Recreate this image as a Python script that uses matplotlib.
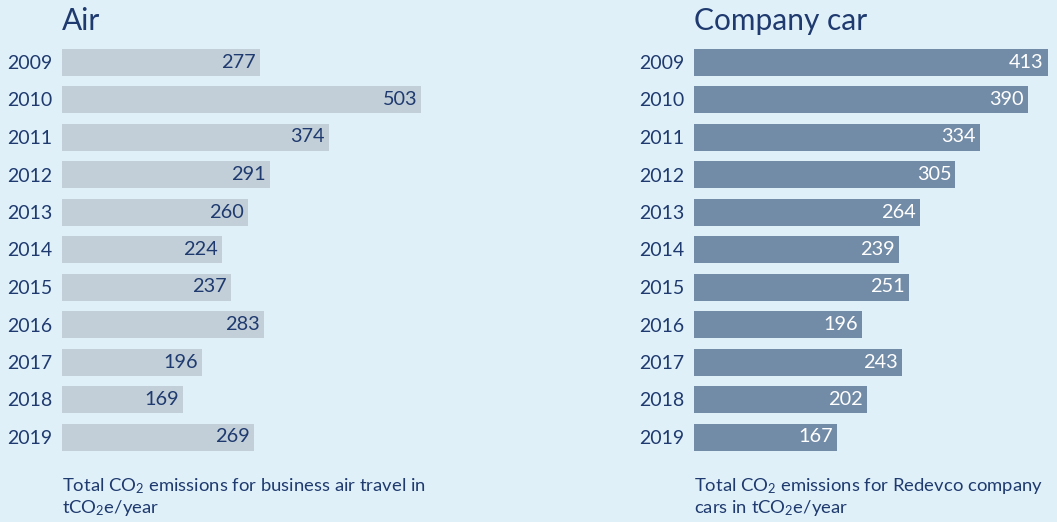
import matplotlib.pyplot as plt

plt.rcParams['font.family'] = ['Lato', 'DejaVu Sans']
plt.rcParams['mathtext.default'] = 'regular'

years = ['2009', '2010', '2011', '2012', '2013', '2014', '2015', '2016', '2017', '2018', '2019']
air = [277, 503, 374, 291, 260, 224, 237, 283, 196, 169, 269]
car = [413, 390, 334, 305, 264, 239, 251, 196, 243, 202, 167]

bg = '#dff0f9'
navy = '#1f3a6e'

W, H = 1057, 522
fig = plt.figure(figsize=(W / 100, H / 100), dpi=100, facecolor=bg)

def panel(left_px, width_px, xmax, values, color, txtcolor, title, caption):
    ax = fig.add_axes([left_px / W, 1 - 455.75 / H, width_px / W, 412.5 / H])
    ax.set_facecolor(bg)
    pos = range(len(years))
    ax.barh(pos, values, height=0.72, color=color)
    ax.set_xlim(0, xmax)
    ax.set_ylim(len(years) - 0.5, -0.5)
    ax.set_yticks(list(pos))
    ax.set_yticklabels(years, fontsize=14, color=navy)
    ax.tick_params(axis='y', length=0, pad=7)
    ax.set_xticks([])
    for s in ax.spines.values():
        s.set_visible(False)
    for i, v in enumerate(values):
        ax.annotate(str(v), (v, i), xytext=(-3, 0), textcoords='offset points',
                    ha='right', va='center', fontsize=14.3, color=txtcolor)
    fig.text(left_px / W, 1 - 30 / H, title, fontsize=21.5, color=navy, ha='left', va='baseline')
    fig.text(left_px / W, 1 - 513 / H, caption, fontsize=13.3, color=navy, ha='left',
             va='baseline', linespacing=1.15)
    return ax

panel(62, 380, 380 / 0.714, air, '#c2cfd9', navy, 'Air',
      'Total CO$_2$ emissions for business air travel in\ntCO$_2$e/year')
panel(694, 363, 363 / 0.857, car, '#728ca8', 'white', 'Company car',
      'Total CO$_2$ emissions for Redevco company\ncars in tCO$_2$e/year')

fig.savefig('out.png', dpi=100, facecolor=bg)
